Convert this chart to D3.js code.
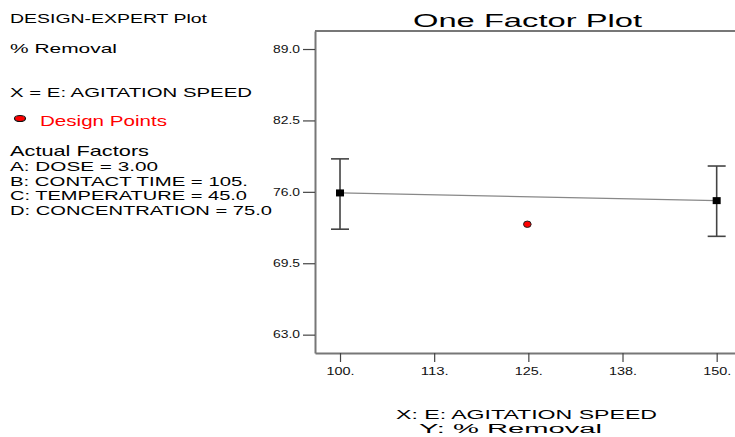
<!DOCTYPE html>
<html>
<head>
<meta charset="utf-8">
<script src="https://cdn.jsdelivr.net/npm/d3@7"></script>
<style>
  body { margin: 0; background: #fff; }
  text { font-family: "Liberation Sans", Arial, sans-serif; }
</style>
</head>
<body>
<div id="chart-area"></div>
<script>
// data
let speeds = [100, 150];
let means = [75.9, 75.2];
let upperCI = [79.0, 78.35];
let lowerCI = [72.6, 71.95];
let designSpeeds = [125];
let designValues = [73.05];
let xTicks = [100, 112.5, 125, 137.5, 150];
let xTickLabels = ["100.", "113.", "125.", "138.", "150."];
let yTicks = [63, 69.5, 76, 82.5, 89];
let infoLines = ["DESIGN-EXPERT Plot", "% Removal", "X = E: AGITATION SPEED"];
let factorLines = ["A: DOSE = 3.00", "B: CONTACT TIME = 105.", "C: TEMPERATURE = 45.0", "D: CONCENTRATION = 75.0"];

let width = 735, height = 437;

let svg = d3.select("#chart-area")
    .append("svg")
        .attr("width", width)
        .attr("height", height)

let x = d3.scaleLinear()
    .domain([96.68, 153.76])
    .range([315, 745])

let y = d3.scaleLinear()
    .domain([61.33, 90.64])
    .range([353, 31])

// frame top line
svg.append("line")
    .attr("x1", 315).attr("x2", 745)
    .attr("y1", y.range()[1]).attr("y2", y.range()[1])
    .attr("stroke", "#777").attr("stroke-width", 2)

let xAxisCall = d3.axisBottom(x)
    .tickValues(xTicks)
    .tickFormat((d, i) => xTickLabels[i])
    .tickSize(9)
    .tickSizeOuter(0)
    .tickPadding(6)

let yAxisCall = d3.axisLeft(y)
    .tickValues(yTicks)
    .tickFormat(d3.format(".1f"))
    .tickSize(12)
    .tickSizeOuter(0)
    .tickPadding(3)

let xAxisGroup = svg.append("g")
    .attr("transform", "translate(0, " + y.range()[0] + ")")
    .call(xAxisCall)

let yAxisGroup = svg.append("g")
    .attr("transform", "translate(315, 0)")
    .call(yAxisCall)

;[xAxisGroup, yAxisGroup].forEach(g => {
    g.select(".domain").attr("stroke", "#777").attr("stroke-width", 2)
    g.selectAll(".tick line").attr("stroke", "#444").attr("stroke-width", 1.2)
    g.selectAll(".tick text")
        .attr("fill", "#111")
        .attr("font-size", "10px")
        .attr("font-family", "Liberation Sans, Arial, sans-serif")
})
xAxisGroup.selectAll(".tick text").attr("textLength", 28).attr("lengthAdjust", "spacingAndGlyphs")
yAxisGroup.selectAll(".tick text").attr("textLength", 27).attr("lengthAdjust", "spacingAndGlyphs")

// mean line
svg.append("line")
    .attr("x1", x(speeds[0])).attr("y1", y(means[0]))
    .attr("x2", x(speeds[1])).attr("y2", y(means[1]))
    .attr("stroke", "#888").attr("stroke-width", 1.2)

// error bars
let bars = svg.selectAll(".err")
    .data(speeds)
    .enter().append("g")
    .attr("class", "err")

bars.append("line")
    .attr("x1", d => x(d)).attr("x2", d => x(d))
    .attr("y1", (d, i) => y(upperCI[i])).attr("y2", (d, i) => y(lowerCI[i]))
    .attr("stroke", "#444").attr("stroke-width", 1.6)

bars.selectAll(".cap")
    .data((d, i) => [{s: d, v: upperCI[i]}, {s: d, v: lowerCI[i]}])
    .enter().append("line")
    .attr("x1", d => x(d.s) - 9).attr("x2", d => x(d.s) + 9)
    .attr("y1", d => y(d.v)).attr("y2", d => y(d.v))
    .attr("stroke", "#444").attr("stroke-width", 1.6)

bars.append("rect")
    .attr("x", d => x(d) - 4)
    .attr("y", (d, i) => y(means[i]) - 3.5)
    .attr("width", 8).attr("height", 7)
    .attr("fill", "#000")

// design points
svg.selectAll(".dp")
    .data(designSpeeds)
    .enter().append("ellipse")
    .attr("cx", d => x(d) - 1)
    .attr("cy", (d, i) => y(designValues[i]))
    .attr("rx", 3.8).attr("ry", 3.2)
    .attr("fill", "#f00")
    .attr("stroke", "#222").attr("stroke-width", 1)

// title
svg.append("text")
    .attr("x", 413).attr("y", 27)
    .attr("font-size", "17.5px")
    .attr("textLength", 229).attr("lengthAdjust", "spacingAndGlyphs")
    .text("One Factor Plot")

// left info block
let infoY = [23, 53, 96.5], infoW = [197, 107, 242]
infoLines.forEach((t, i) => {
    svg.append("text")
        .attr("x", 10).attr("y", infoY[i])
        .attr("font-size", "13.5px")
        .attr("textLength", infoW[i]).attr("lengthAdjust", "spacingAndGlyphs")
        .text(t)
})

svg.append("ellipse")
    .attr("cx", 20).attr("cy", 118.5)
    .attr("rx", 5.5).attr("ry", 3)
    .attr("fill", "#f00").attr("stroke", "#111").attr("stroke-width", 1.2)

svg.append("text")
    .attr("x", 40).attr("y", 126)
    .attr("font-size", "14px")
    .attr("fill", "#f00")
    .attr("textLength", 127).attr("lengthAdjust", "spacingAndGlyphs")
    .text("Design Points")

svg.append("text")
    .attr("x", 10).attr("y", 156)
    .attr("font-size", "14.5px")
    .attr("textLength", 139).attr("lengthAdjust", "spacingAndGlyphs")
    .text("Actual Factors")

let factorY = [170.5, 185.5, 200, 215], factorW = [148, 238, 237, 262]
factorLines.forEach((t, i) => {
    svg.append("text")
        .attr("x", 10).attr("y", factorY[i])
        .attr("font-size", "13px")
        .attr("textLength", factorW[i]).attr("lengthAdjust", "spacingAndGlyphs")
        .text(t)
})

// axis labels
svg.append("text")
    .attr("x", 396).attr("y", 418.5)
    .attr("font-size", "12.5px")
    .attr("textLength", 261).attr("lengthAdjust", "spacingAndGlyphs")
    .text("X: E: AGITATION SPEED")

svg.append("text")
    .attr("x", 419).attr("y", 432.5)
    .attr("font-size", "12.5px")
    .attr("textLength", 183).attr("lengthAdjust", "spacingAndGlyphs")
    .text("Y: % Removal")
</script>
</body>
</html>
